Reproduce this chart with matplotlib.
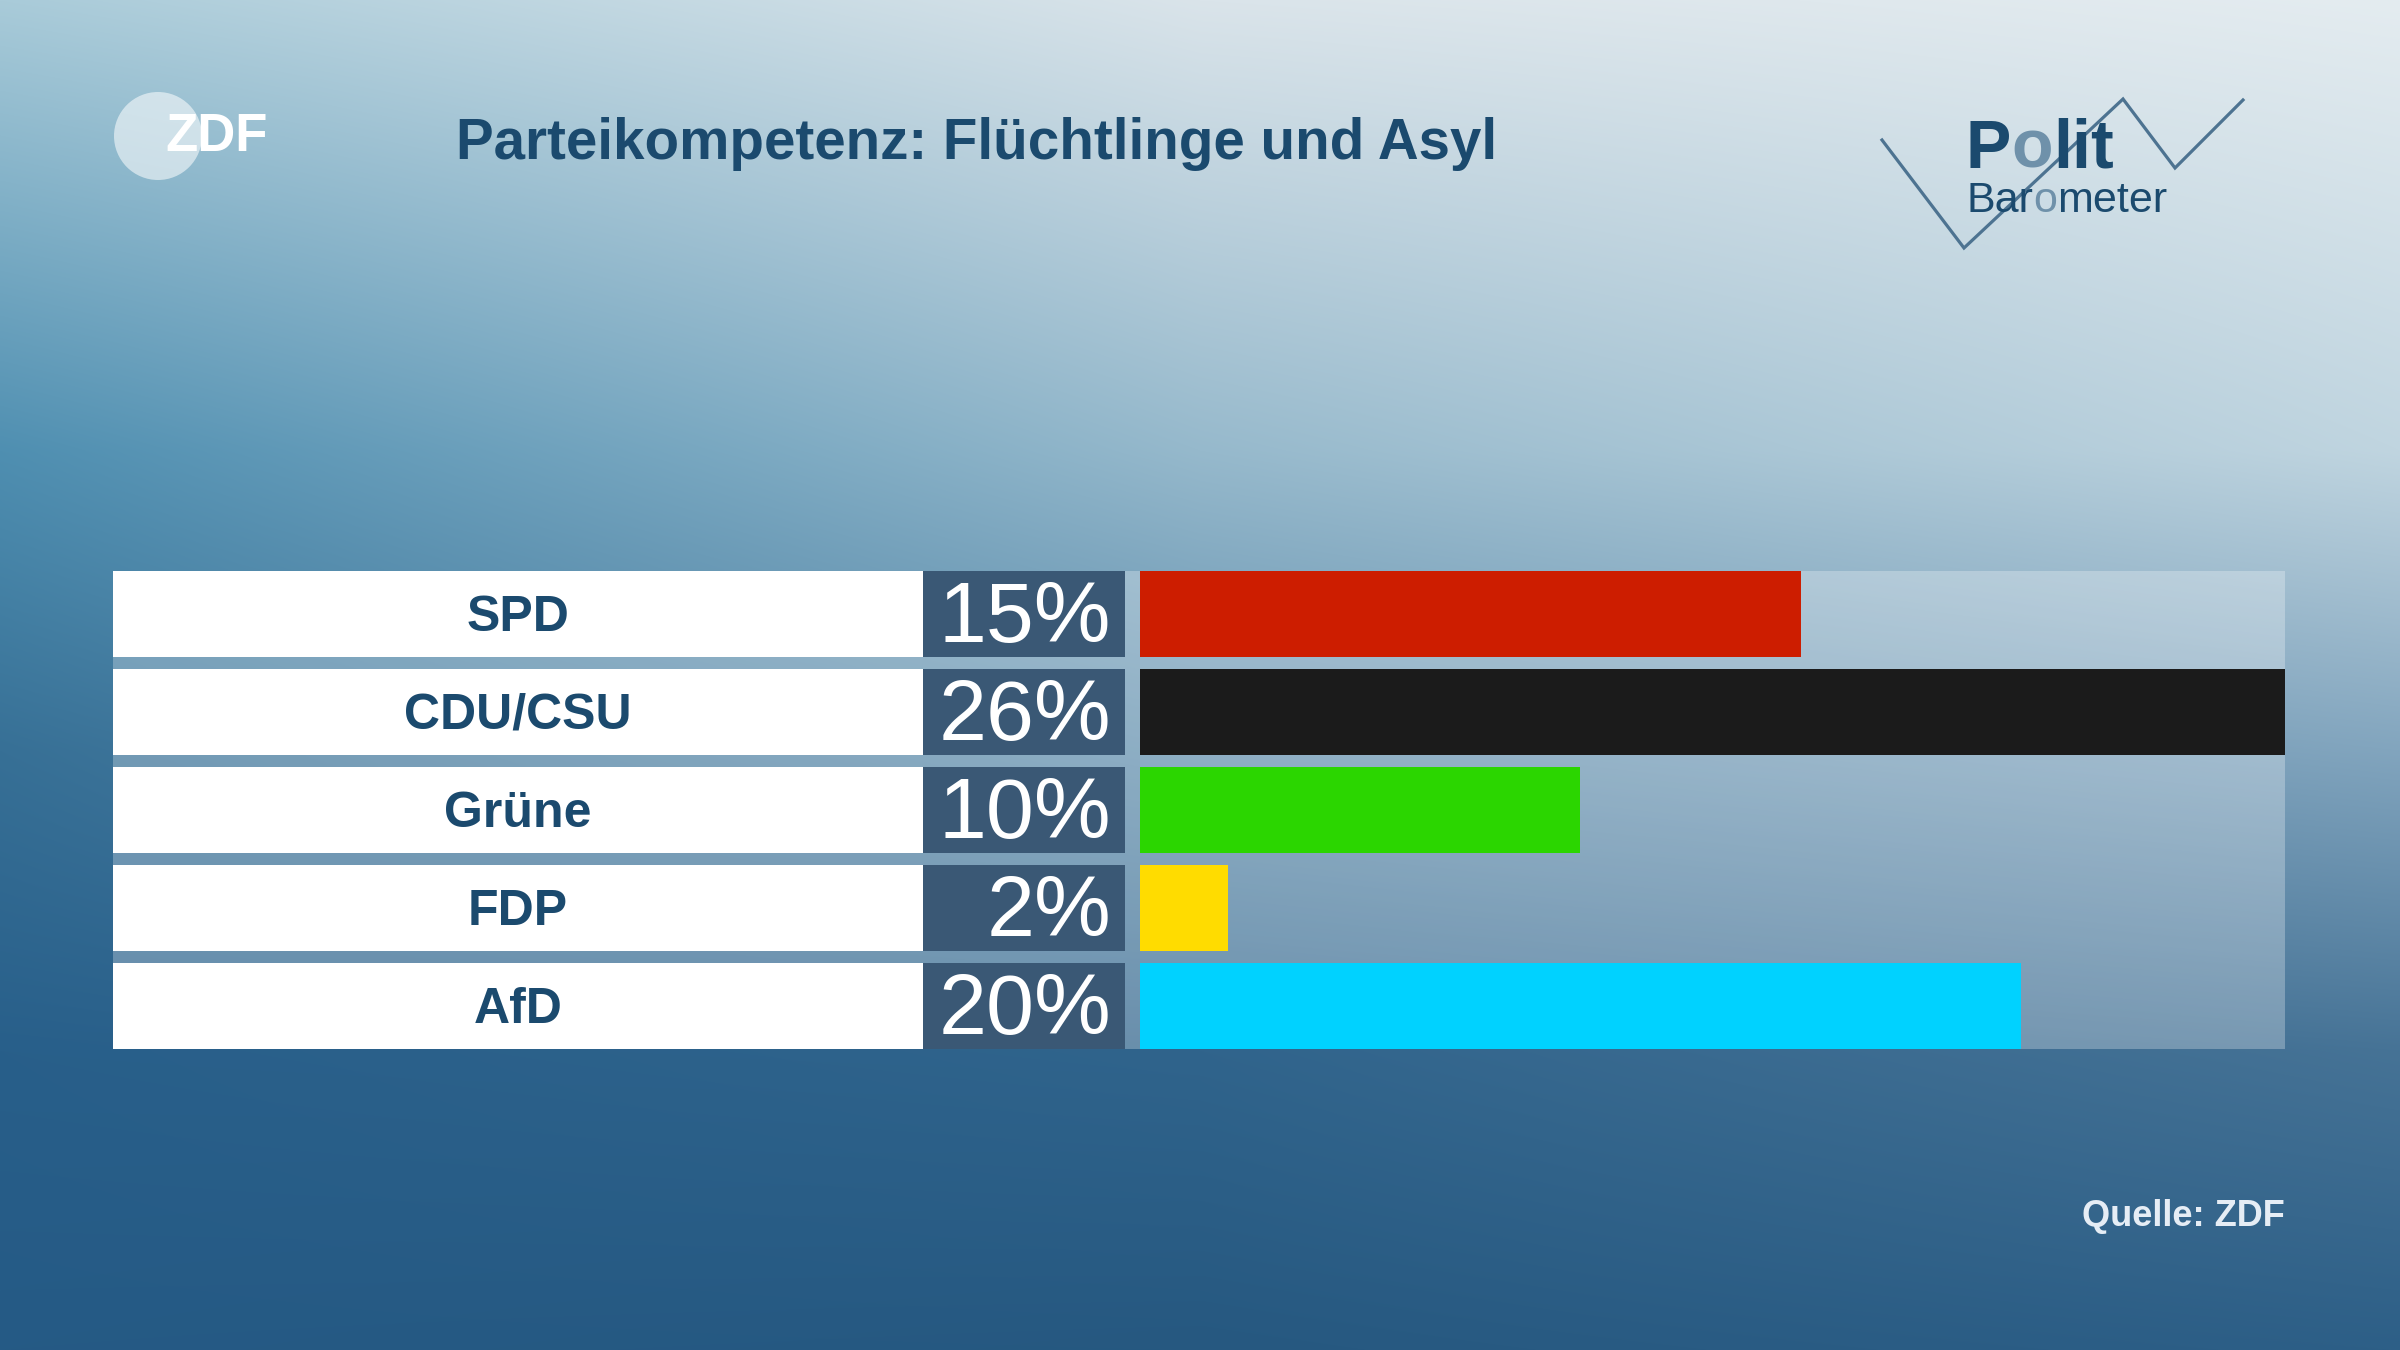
import numpy as np
import matplotlib
matplotlib.use('Agg')
import matplotlib.pyplot as plt
from matplotlib.patches import Rectangle, Circle

# data
parties = ['SPD', 'CDU/CSU', 'Grüne', 'FDP', 'AfD']
values = [15, 26, 10, 2, 20]
bar_colors = ['#cd1d00', '#1b1b1b', '#2bd600', '#ffdc00', '#00d2ff']
title = 'Parteikompetenz: Flüchtlinge und Asyl'
source = 'Quelle: ZDF'

W, H = 2400, 1350
sans = ['Liberation Sans', 'DejaVu Sans']
navy = '#1b4a6e'

fig = plt.figure(figsize=(24, 13.5), dpi=100)

# ---- background gradient (pixel coordinates)
bg = fig.add_axes([0, 0, 1, 1])
ctrl_y = [0, 450, 750, 1050, 1350]
ctrl_x = [0, 1200, 2400]
ctrl = np.array([
	[[169, 203, 217], [218, 228, 234], [228, 236, 240]],
	[[79, 143, 177], [150, 185, 204], [192, 213, 224]],
	[[55, 112, 150], [100, 145, 175], [130, 165, 190]],
	[[40, 95, 138], [48, 100, 140], [70, 115, 150]],
	[[37, 90, 133], [38, 88, 128], [45, 95, 135]],
]) / 255.0
nr = len(ctrl_y)
xs = np.arange(W)
ys = np.arange(H)
wy = np.stack([np.interp(ys, ctrl_y, np.eye(nr)[k]) for k in range(nr)], axis=1)
img = np.zeros((H, W, 3))
for c in range(3):
	rowvals = np.array([np.interp(xs, ctrl_x, ctrl[r, :, c]) for r in range(nr)])
	img[:, :, c] = wy @ rowvals
bg.imshow(img, extent=[0, W, H, 0], aspect='auto', interpolation='bilinear')
bg.set_xlim(0, W)
bg.set_ylim(H, 0)
bg.axis('off')

# ---- ZDF logo
bg.add_patch(Circle((158, 136), 44, color='white', alpha=0.55, lw=0))
bg.text(165, 137, 'ZDF', fontsize=38, fontweight='bold', family=sans,
		color='white', va='center', ha='left')

# ---- title
bg.text(456, 159, title, fontsize=40.7, fontweight='bold', family=sans,
		color=navy, va='baseline', ha='left')

# ---- Politbarometer logo
zx = [1882, 1964, 2123, 2175, 2243]
zy = [140, 248, 99, 168, 100]
bg.plot(zx, zy, color='#4d7391', lw=2.3, solid_joinstyle='miter')
rend = fig.canvas.get_renderer()


def put(x, y, s, col, **kw):
	t = bg.text(x, y, s, color=col, va='baseline', ha='left', family=sans, **kw)
	return x + t.get_window_extent(renderer=rend).width


light = '#6f91aa'
x = 1966
for s, col in [('P', navy), ('o', light), ('lit', navy)]:
	x = put(x, 168, s, col, fontsize=49, fontweight='bold')
x = 1966
for s, col in [('Bar', navy), ('o', light), ('meter', navy)]:
	x = put(x, 212, s, col, fontsize=31)

# ---- panel with labels and value boxes
n = len(parties)
bh = 86 / 98.0
ylo, yhi = n - 1 + bh / 2, -bh / 2
left_px, right_px, top_px, bot_px = 113, 2285, 571, 1049
pos = [left_px / W, 1 - bot_px / H, (right_px - left_px) / W, (bot_px - top_px) / H]
ax = fig.add_axes(pos)
ax.set_xlim(0, right_px - left_px)
ax.set_ylim(ylo, yhi)
ax.axis('off')
ax.add_patch(Rectangle((0, yhi), right_px - left_px, ylo - yhi, color='white', alpha=0.28, lw=0))
rows = np.arange(n)
ax.barh(rows, 810, height=bh, color='white', lw=0)
ax.barh(rows, 202, left=810, height=bh, color='#3a5875', lw=0)
for i in rows:
	ax.text(405, i + 0.04, parties[i], fontsize=36, fontweight='bold', family=sans,
			color=navy, ha='center', va='center')
	ax.text(998, i + 0.06, f'{values[i]}%', fontsize=62, family=sans,
			color='white', ha='right', va='center')

# ---- value bars
bx = fig.add_axes([1140 / W, pos[1], (right_px - 1140) / W, pos[3]])
bx.set_xlim(0, max(values))
bx.set_ylim(ylo, yhi)
bx.axis('off')
bx.patch.set_alpha(0)
bx.barh(rows, values, height=bh, color=bar_colors, lw=0)

# ---- source
bg.text(2285, 1226, source, fontsize=26, fontweight='bold', family=sans,
		color='#e6edf5', ha='right', va='baseline')

fig.savefig('out.png', dpi=100)
